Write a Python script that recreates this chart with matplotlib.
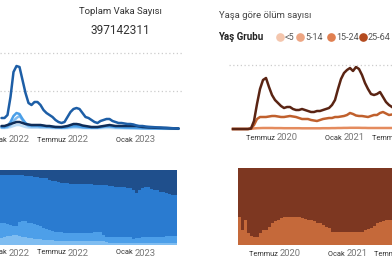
import numpy as np
import matplotlib
matplotlib.use("Agg")
import matplotlib.pyplot as plt
from matplotlib.lines import Line2D
from matplotlib.transforms import blended_transform_factory

plt.rcParams['font.family'] = ['Roboto', 'DejaVu Sans']

# --- left: weekly cases (arbitrary units), five series
cases_main = [11, 11, 14, 32, 57, 63, 62, 49, 36, 26, 24, 27, 27, 24, 19, 16, 14, 12, 9, 7,
              6, 7, 12, 17, 20, 21, 20, 16, 12, 11, 9, 7, 6, 8, 9, 10, 10, 8, 7, 6,
              6, 5.5, 5, 5, 4.5, 3.5, 3, 3, 2.5, 2.2, 2, 1.8, 1.6, 1.5, 1.3, 1.2, 1, 0.8, 0.6, 0.5]
cases_navy = [3, 3, 4, 5, 6, 7, 7, 6, 5, 4.5, 4, 4, 4, 4, 3.5, 3, 3, 2.5, 2, 2,
              2, 2.5, 3, 4, 5, 5, 4.5, 3.5, 3, 2.5, 2, 2, 2, 2.5, 3, 3.5, 4, 3.5, 3, 3,
              3, 3, 3, 3, 3, 3, 2.5, 2, 1.8, 1.6, 1.5, 1.3, 1.2, 1.1, 1, 0.9, 0.8, 0.7, 0.6, 0.5]
cases_light = [2, 2, 3, 7, 13, 16, 15, 10, 6, 4, 3.5, 3.5, 3.5, 3, 3, 2.5, 2.5, 2, 2, 1.8,
               1.5, 1.5, 2, 2.5, 3, 3, 2.5, 2, 1.8, 1.6, 1.5, 1.5, 1.5, 2, 2.5, 3, 3, 2.5, 2, 2,
               1.8, 1.6, 1.5, 1.4, 1.3, 1.2, 1.1, 1, 0.9, 0.8, 0.7, 0.7, 0.6, 0.6, 0.5, 0.5, 0.4, 0.4, 0.3, 0.3]
cases_lighter = [1.5, 1.5, 2, 4, 8, 11, 13, 9, 5, 3, 2.5, 2.5, 2.5, 2, 2, 2, 1.8, 1.6, 1.5, 1.3,
                 1.2, 1.2, 1.5, 2, 2.3, 2.3, 2, 1.6, 1.4, 1.3, 1.2, 1.2, 1.2, 1.5, 2, 2.3, 2.3, 2, 1.6, 1.5,
                 1.4, 1.2, 1.1, 1, 1, 0.9, 0.8, 0.7, 0.7, 0.6, 0.6, 0.5, 0.5, 0.4, 0.4, 0.4, 0.3, 0.3, 0.3, 0.2]
cases_lightest = [1, 1, 1.2, 2, 3, 4, 4, 3, 2, 1.5, 1.3, 1.3, 1.3, 1.2, 1.1, 1, 1, 0.9, 0.8, 0.8,
                  0.7, 0.7, 0.8, 1, 1.1, 1.1, 1, 0.9, 0.8, 0.7, 0.7, 0.7, 0.7, 0.8, 0.9, 1, 1, 0.9, 0.8, 0.7,
                  0.7, 0.6, 0.6, 0.6, 0.5, 0.5, 0.5, 0.4, 0.4, 0.4, 0.3, 0.3, 0.3, 0.3, 0.2, 0.2, 0.2, 0.2, 0.2, 0.2]

# left: weekly share (%) bottom -> top
share_lightest = [9, 11, 12, 12, 13, 13, 12, 11, 11, 9, 9, 8, 8, 8, 7, 7, 7, 7, 5, 5,
                  5, 5, 5, 5, 5, 5, 5, 5, 5, 5, 5, 5, 5, 5, 5, 4, 3, 3, 3, 3,
                  3, 3, 3, 3, 3, 3, 3, 3, 3, 3, 3, 3, 3, 3, 3, 3, 3, 3, 3]
share_light = [20, 19, 16, 15, 12, 13, 19, 21, 21, 20, 20, 20, 19, 17, 16, 15, 13, 12, 13, 12,
               12, 11, 11, 11, 11, 11, 11, 11, 11, 11, 11, 12, 13, 12, 8, 7, 8, 8, 8, 8,
               8, 8, 8, 8, 5, 7, 7, 8, 8, 8, 8, 8, 8, 8, 8, 9, 9, 9, 9]
share_mid = [64, 63, 65, 66, 68, 67, 62, 61, 60, 63, 63, 63, 64, 65, 66, 67, 67, 67, 67, 67,
             66, 67, 67, 66, 66, 66, 66, 65, 65, 65, 65, 63, 62, 63, 67, 69, 68, 68, 67, 67,
             66, 66, 65, 65, 65, 60, 63, 65, 66, 66, 64, 63, 62, 60, 60, 57, 56, 55, 55]
share_dark = [7, 7, 7, 7, 7, 7, 7, 7, 8, 8, 8, 9, 9, 10, 11, 11, 13, 14, 15, 16,
              17, 17, 17, 18, 18, 18, 18, 19, 19, 19, 19, 20, 20, 20, 20, 20, 21, 21, 22, 22,
              23, 23, 24, 24, 27, 30, 27, 24, 23, 23, 25, 26, 27, 29, 29, 31, 32, 33, 33]

left_ticks = [3, 22.5, 45]
left_months = ['Ocak', 'Temmuz', 'Ocak']
left_years = ['2022', '2022', '2023']

# --- right: weekly deaths by age group
deaths_65 = [0, 0, 0, 0, 0, 0, 0.5, 8, 25, 40, 49, 51, 42, 34, 29, 26, 23, 21, 22, 22,
             20, 19, 19, 20, 19, 18, 17, 17, 18, 18, 19, 20, 21, 24, 29, 40, 50, 56, 59, 61,
             58, 62, 60, 54, 46, 40, 35, 34, 35, 37, 32, 27, 24, 22]
deaths_25_64 = [0, 0, 0, 0, 0, 0, 0.5, 4, 10, 12, 12, 12, 12.5, 13, 13, 12.5, 12, 12, 12.5, 13,
                12.5, 12, 11, 10, 10, 10, 9, 8.5, 8, 9, 10, 10.5, 11, 11, 12, 12, 12.5, 13, 14, 16,
                15, 13.5, 13, 13, 12.5, 12, 13, 14, 14, 16, 17, 15.5, 14, 14.5]
deaths_15_24 = [0, 0, 0, 0, 0, 0, 0.2, 0.6, 0.8, 0.9, 1, 1, 1, 1, 0.9, 0.9, 0.9, 0.8, 0.8, 0.8,
                0.8, 0.8, 0.8, 0.7, 0.7, 0.7, 0.7, 0.7, 0.7, 0.7, 0.8, 0.8, 0.8, 0.9, 0.9, 1, 1, 1.1, 1.1, 1.2,
                1.2, 1.2, 1.2, 1.1, 1.1, 1, 1, 1, 1, 1, 1, 1, 1, 1]

share_25_64 = [36, 20, 33, 15, 12, 10, 11, 15, 19, 20, 24, 28, 31, 33, 35, 36, 37, 37, 37, 37,
               36, 35, 34, 33, 33, 31, 29, 29, 26, 24, 22, 17, 17, 17, 17, 17, 17, 17, 17, 17,
               17, 17, 19, 21, 22, 25, 28, 30, 31, 32, 33, 33]
share_65 = [64, 80, 67, 85, 88, 90, 89, 85, 81, 80, 76, 72, 69, 67, 65, 64, 63, 63, 63, 63,
            64, 65, 66, 67, 67, 69, 71, 71, 74, 76, 78, 83, 83, 83, 83, 83, 83, 83, 83, 83,
            83, 83, 81, 79, 78, 75, 72, 70, 69, 68, 67, 67]

right_top_ticks = [14.7, 37, 56.7]
right_bar_ticks = [14, 36.3, 55.7]
right_months = ['Temmuz', 'Ocak', 'Temmuz']
right_years = ['2020', '2021', '2021']

age_groups = ['<5', '5-14', '15-24', '25-64']
age_colors = ['#f4c6ad', '#eda582', '#e07f50', '#b34a1e']

W, H = 392, 269
fig = plt.figure(figsize=(W / 100, H / 100), dpi=100)


def px_axes(x0, y0, x1, y1):
    ax = fig.add_axes([x0 / W, 1 - y1 / H, (x1 - x0) / W, (y1 - y0) / H])
    ax.set_axis_off()
    return ax


def date_labels(ax, xs, py, months, years):
    tr = blended_transform_factory(ax.transData, fig.transFigure)
    for x, m, y in zip(xs, months, years):
        fig.text(x, 1 - py / H, m + ' ', transform=tr, ha='right', va='center',
                 fontsize=5.3, color='#333333')
        fig.text(x, 1 - py / H, y, transform=tr, ha='left', va='center',
                 fontsize=6.8, color='#777777')


dotted = dict(color='#cccccc', lw=0.9, ls=(0, (1, 2)))

# left line chart
ax1 = px_axes(0, 45, 183, 130)
ax1.set_xlim(0, 61)
ax1.set_ylim(-1, 84)
for g in [38, 76]:
    ax1.axhline(g, **dotted)
series = [(cases_lightest, '#bcdcf6'), (cases_lighter, '#7dbaf0'),
          (cases_light, '#4a9fe8'), (cases_navy, '#0f2d58'), (cases_main, '#1d5ea6')]
for vals, c in series:
    x = np.arange(len(vals)) + 0.5
    ax1.plot(x, vals, color=c, lw=1.8, solid_capstyle='round', clip_on=False)
date_labels(ax1, left_ticks, 140, left_months, left_years)

# left stacked bars
ax2 = px_axes(0, 170, 183, 245)
ax2.set_xlim(0, 61)
ax2.set_ylim(0, 100)
bottom = np.zeros(len(share_dark))
for vals, c in [(share_lightest, '#7fbdf1'), (share_light, '#4d9fe9'),
                (share_mid, '#2a7bd0'), (share_dark, '#1f4f8c')]:
    x = np.arange(len(vals))
    ax2.bar(x, vals, bottom=bottom, width=0.88, align='edge', color=c, lw=0)
    bottom = bottom + np.array(vals)
date_labels(ax2, left_ticks, 253, left_months, left_years)

# titles left
fig.text(120 / W, 1 - 11 / H, 'Toplam Vaka Sayısı', ha='center', va='center',
         fontsize=6.8, color='#333333')
fig.text(120 / W, 1 - 31 / H, '397142311', ha='center', va='center',
         fontsize=8.5, color='#333333')

# right line chart
ax3 = px_axes(229, 45, 409, 130)
ax3.set_xlim(-4 / 3, 58 + 2 / 3)
ax3.set_ylim(-1, 84)
ax3.axhline(64, **dotted)
for vals, c in [(deaths_15_24, '#e48b5e'), (deaths_25_64, '#c0602d'), (deaths_65, '#5a2413')]:
    ax3.plot(np.arange(len(vals)), vals, color=c, lw=1.8, clip_on=False)
date_labels(ax3, right_top_ticks, 138, right_months, right_years)

# right stacked bars
ax4 = px_axes(238, 168, 397, 245)
ax4.set_xlim(0, 53)
ax4.set_ylim(0, 100)
x = np.arange(len(share_25_64))
ax4.bar(x, share_25_64, width=0.88, align='edge', color='#c5693a', lw=0)
ax4.bar(x, share_65, bottom=share_25_64, width=0.88, align='edge', color='#7d3721', lw=0)
date_labels(ax4, right_bar_ticks, 254, right_months, right_years)

# right title and legend
fig.text(219 / W, 1 - 16 / H, 'Yaşa göre ölüm sayısı', ha='left', va='center',
         fontsize=6.8, color='#444444')
fig.text(218 / W, 1 - 37 / H, 'Yaş Grubu', ha='left', va='center',
         fontsize=7, fontweight='bold', color='#222222')
lx = [280, 300, 331, 363]
for px, lab, c in zip(lx, age_groups, age_colors):
    fig.add_artist(Line2D([px / W], [1 - 37 / H], marker='o', markersize=5.2,
                          color=c, lw=0, transform=fig.transFigure))
    fig.text((px + 5) / W, 1 - 37 / H, lab, ha='left', va='center', fontsize=6.5,
             color='#555555')

fig.savefig('out.png', dpi=100)
